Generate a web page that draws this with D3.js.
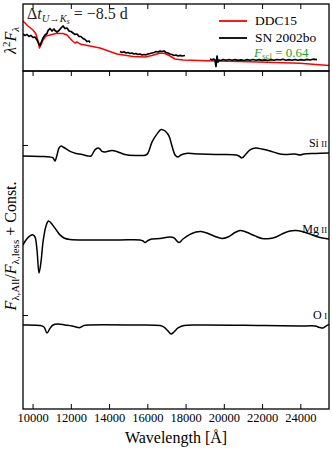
<!DOCTYPE html>
<html>
<head>
<meta charset="utf-8">
<script src="https://cdn.jsdelivr.net/npm/d3@7"></script>
<style>
  body { margin: 0; background: #fff; }
</style>
</head>
<body>
<svg id="chart" width="332" height="450"></svg>
<script>
// x ticks shared by both panels
const xTicks = [10000, 12000, 14000, 16000, 18000, 20000, 22000, 24000];

// top panel: model (DDC15) and observed (SN 2002bo) lambda^2 F_lambda, arbitrary units
const ddcWave = [9500, 9761, 10023, 10180, 10284, 10363, 10441, 10546, 10703, 10912, 11226, 11592, 11801, 12062, 12219, 12324, 12480, 12742, 13526, 14415, 15252, 15879, 16245, 16664, 16925, 17187, 17448, 17866, 19121, 21370, 23984, 25500];
const ddcFlux = [0.746, 0.672, 0.612, 0.552, 0.448, 0.343, 0.388, 0.463, 0.522, 0.537, 0.560, 0.560, 0.537, 0.455, 0.418, 0.433, 0.403, 0.388, 0.343, 0.254, 0.216, 0.209, 0.231, 0.269, 0.261, 0.224, 0.179, 0.164, 0.154, 0.139, 0.115, 0.082];

const obsWave1 = [9500, 9605, 9709, 9814, 9918, 10023, 10127, 10232, 10337, 10389, 10441, 10546, 10650, 10755, 10807, 10912, 11016, 11121, 11173, 11278, 11382, 11487, 11592, 11696, 11801, 11905, 12010, 12115, 12219, 12324, 12428, 12533, 12637, 12742, 12847, 12951, 13003];
const obsFlux1 = [0.552, 0.530, 0.545, 0.515, 0.530, 0.500, 0.507, 0.463, 0.403, 0.381, 0.418, 0.493, 0.537, 0.560, 0.604, 0.634, 0.597, 0.627, 0.604, 0.582, 0.604, 0.642, 0.672, 0.634, 0.642, 0.597, 0.590, 0.567, 0.545, 0.552, 0.515, 0.515, 0.485, 0.470, 0.440, 0.448, 0.425];
const obsWave2 = [14572, 14677, 14781, 14886, 14990, 15095, 15199, 15304, 15409, 15513, 15618, 15722, 15827, 15931, 16036, 16141, 16245, 16350, 16454, 16559, 16664, 16768, 16873, 16977, 17082, 17187, 17291, 17396, 17500, 17605, 17709, 17814, 17971];
const obsFlux2 = [0.291, 0.276, 0.287, 0.269, 0.276, 0.261, 0.269, 0.254, 0.261, 0.246, 0.254, 0.239, 0.246, 0.242, 0.254, 0.261, 0.269, 0.276, 0.291, 0.284, 0.299, 0.291, 0.299, 0.276, 0.269, 0.254, 0.246, 0.231, 0.239, 0.224, 0.234, 0.224, 0.231];
const obsWave3 = [19278, 19383, 19487, 19539, 19592, 19644, 19696, 19749, 19853, 19958, 20115, 20271, 20428, 20585, 20742, 20899, 21056, 21213, 21370, 21526, 21683, 21840, 21997, 22154, 22311, 22468, 22624, 22781, 22938, 23095, 23252, 23409, 23566, 23722, 23879, 24036, 24193, 24350, 24507, 24664, 24873];
const obsFlux3 = [0.179, 0.167, 0.179, 0.164, 0.067, 0.224, 0.134, 0.164, 0.157, 0.172, 0.160, 0.172, 0.161, 0.170, 0.158, 0.167, 0.157, 0.169, 0.160, 0.172, 0.161, 0.170, 0.158, 0.167, 0.157, 0.169, 0.160, 0.172, 0.164, 0.175, 0.161, 0.170, 0.160, 0.172, 0.161, 0.170, 0.161, 0.173, 0.164, 0.176, 0.170];

// bottom panel: flux ratios F_all / F_less, each shifted by a constant
const siWave = [9500, 10390, 10910, 11070, 11170, 11280, 11380, 11490, 11640, 11960, 12270, 12590, 12900, 13060, 13260, 13420, 13530, 13630, 13790, 14150, 14470, 14830, 15360, 15930, 16040, 16250, 16510, 16720, 16930, 17130, 17290, 17450, 17600, 17760, 18020, 18760, 19800, 20740, 20950, 21160, 21370, 21680, 21990, 22420, 22830, 23200, 23720, 23980, 24190, 24770, 25500];
const siRatio = [0.935, 0.932, 0.929, 0.924, 0.906, 0.941, 0.982, 0.994, 0.985, 0.962, 0.950, 0.944, 0.935, 0.935, 0.971, 0.982, 0.976, 0.962, 0.959, 0.968, 0.959, 0.944, 0.938, 0.941, 0.953, 1.018, 1.065, 1.091, 1.082, 1.053, 0.994, 0.941, 0.929, 0.941, 0.950, 0.947, 0.944, 0.938, 0.924, 0.947, 0.971, 0.982, 0.976, 0.965, 0.950, 0.944, 0.947, 0.941, 0.947, 0.950, 0.953];

const mgWave = [9500, 9657, 9866, 10023, 10127, 10232, 10337, 10441, 10546, 10703, 10833, 10964, 11121, 11278, 11435, 11644, 11958, 13003, 14572, 15618, 15775, 15879, 16036, 16245, 16664, 17187, 17396, 17657, 17866, 18232, 18546, 18808, 19121, 19540, 19906, 20219, 20585, 20847, 21161, 21631, 21997, 22416, 22729, 23095, 23461, 23775, 24089, 24507, 24926, 25500];
const mgRatio = [0.912, 0.941, 0.965, 0.971, 0.959, 0.882, 0.747, 0.812, 0.929, 1.024, 1.053, 1.041, 1.018, 0.994, 0.971, 0.953, 0.944, 0.941, 0.941, 0.941, 0.935, 0.926, 0.938, 0.947, 0.950, 0.959, 0.953, 0.926, 0.947, 0.974, 0.988, 0.991, 0.982, 0.962, 0.950, 0.959, 0.985, 0.997, 0.988, 0.965, 0.950, 0.950, 0.959, 0.979, 0.994, 0.997, 0.991, 0.976, 0.959, 0.947];

const oWave = [9500, 10389, 10598, 10755, 10912, 11069, 11330, 11696, 12062, 12376, 12480, 12690, 13003, 15095, 16664, 16873, 17082, 17239, 17396, 17605, 17919, 18755, 21893, 23984, 24768, 25030, 25187, 25343, 25500];
const oRatio = [0.941, 0.938, 0.929, 0.894, 0.921, 0.941, 0.947, 0.941, 0.935, 0.926, 0.926, 0.938, 0.941, 0.941, 0.938, 0.929, 0.906, 0.888, 0.900, 0.924, 0.938, 0.941, 0.938, 0.935, 0.935, 0.926, 0.924, 0.935, 0.944];

const ionNames = ["Si", "Mg", "O"];
const ionStages = ["II", "II", "I"];
const ionOffsets = [1.0, 0.5, 0.0];
const ratioTicks = [1, 2];

const FONT = "Liberation Serif";

const svg = d3.select("#chart");
const left = 23, right = 329;
const topY0 = 4, topY1 = 71, botY1 = 409;

const x = d3.scaleLinear().domain([9500, 25500]).range([left, right]);
const yTop = d3.scaleLinear().domain([0, 1]).range([topY1, topY0]);
const yBot = d3.scaleLinear().domain([0.447, 2.435]).range([botY1, topY1]);

// clip regions
const defs = svg.append("defs");
defs.append("clipPath").attr("id", "clipTop")
  .append("rect").attr("x", left).attr("y", topY0).attr("width", right - left).attr("height", topY1 - topY0);
defs.append("clipPath").attr("id", "clipBot")
  .append("rect").attr("x", left).attr("y", topY1).attr("width", right - left).attr("height", botY1 - topY1);

const zip = (w, f) => w.map((d, i) => [d, f[i]]);
const txt = (sel) => sel.append("text").style("font-family", FONT).attr("fill", "#000");

// ---- top panel ----
const lineTop = d3.line().x(d => x(d[0])).y(d => yTop(d[1]));
const gTop = svg.append("g").attr("clip-path", "url(#clipTop)");

gTop.append("path")
  .attr("d", lineTop(zip(ddcWave, ddcFlux)))
  .attr("fill", "none").attr("stroke", "#ff0000").attr("stroke-width", 1.5)
  .attr("stroke-linejoin", "round");

[[obsWave1, obsFlux1], [obsWave2, obsFlux2], [obsWave3, obsFlux3]].forEach(([w, f]) => {
  gTop.append("path")
    .attr("d", lineTop(zip(w, f)))
    .attr("fill", "none").attr("stroke", "#000").attr("stroke-width", 1.7)
    .attr("stroke-linejoin", "round");
});

// ---- bottom panel ----
const lineBot = d3.line().curve(d3.curveCatmullRom.alpha(0.5))
  .x(d => x(d[0])).y(d => yBot(d[1]));
const gBot = svg.append("g").attr("clip-path", "url(#clipBot)");

const ionCurves = [zip(siWave, siRatio), zip(mgWave, mgRatio), zip(oWave, oRatio)];
ionCurves.forEach((pts, i) => {
  gBot.append("path")
    .attr("d", lineBot(pts.map(d => [d[0], d[1] + ionOffsets[i]])))
    .attr("fill", "none").attr("stroke", "#000").attr("stroke-width", 1.5)
    .attr("stroke-linejoin", "round");
});

// ion labels near the right edge
ionNames.forEach((name, i) => {
  const last = ionCurves[i][ionCurves[i].length - 1];
  const t = txt(svg)
    .attr("x", right - 2)
    .attr("y", yBot(last[1] + ionOffsets[i]) - 6)
    .attr("text-anchor", "end")
    .attr("font-size", 12);
  t.append("tspan").text(name + "\u2009");
  t.append("tspan").attr("font-size", 8.5).text(ionStages[i]);
});

// ---- axes ----
const addTicks = (axis, tx, ty) => {
  const g = svg.append("g").attr("transform", `translate(${tx},${ty})`).call(axis);
  g.select(".domain").remove();
  g.selectAll(".tick line").attr("stroke", "#000").attr("stroke-width", 1);
  return g;
};

addTicks(d3.axisTop(x).tickValues(xTicks).tickSize(-5).tickFormat(""), 0, topY0);
addTicks(d3.axisTop(x).tickValues(xTicks).tickSize(-5).tickFormat(""), 0, topY1);
const xAxis = addTicks(d3.axisBottom(x).tickValues(xTicks).tickSize(-5).tickPadding(4).tickFormat(d3.format("d")), 0, botY1);
xAxis.selectAll(".tick text").attr("font-size", 12.5).style("font-family", FONT).attr("fill", "#000");
addTicks(d3.axisLeft(yBot).tickValues(ratioTicks).tickSize(-5).tickFormat(""), left, 0);

// spines
svg.append("rect").attr("x", left).attr("y", topY0).attr("width", right - left).attr("height", topY1 - topY0)
  .attr("fill", "none").attr("stroke", "#000").attr("stroke-width", 1.3);
svg.append("rect").attr("x", left).attr("y", topY1).attr("width", right - left).attr("height", botY1 - topY1)
  .attr("fill", "none").attr("stroke", "#000").attr("stroke-width", 1.3);

// ---- labels ----
txt(svg)
  .attr("x", (left + right) / 2).attr("y", 443)
  .attr("text-anchor", "middle").attr("font-size", 16)
  .text("Wavelength [\u00c5]");

const yl = txt(svg)
  .attr("transform", `translate(16,${(topY1 + botY1) / 2 + 6}) rotate(-90)`)
  .attr("text-anchor", "middle").attr("font-size", 16);
yl.append("tspan").attr("font-style", "italic").text("F");
yl.append("tspan").attr("font-size", 11).attr("dy", 3).text("\u03bb,All");
yl.append("tspan").attr("dy", -3).text("/");
yl.append("tspan").attr("font-style", "italic").text("F");
yl.append("tspan").attr("font-size", 11).attr("dy", 3).text("\u03bb,less");
yl.append("tspan").attr("dy", -3).text(" + Const.");

const yt = txt(svg)
  .attr("transform", `translate(16,${(topY0 + topY1) / 2 + 3}) rotate(-90)`)
  .attr("text-anchor", "middle").attr("font-size", 16);
yt.append("tspan").attr("font-style", "italic").text("\u03bb");
yt.append("tspan").attr("font-size", 11).attr("dy", -6).text("2");
yt.append("tspan").attr("dy", 6).attr("font-style", "italic").text("F");
yt.append("tspan").attr("font-size", 11).attr("dy", 3).attr("font-style", "italic").text("\u03bb");

// epoch annotation
const ann = txt(svg).attr("x", 27).attr("y", 19).attr("font-size", 16).attr("fill", "#222");
ann.append("tspan").text("\u0394");
ann.append("tspan").attr("font-style", "italic").text("t");
ann.append("tspan").attr("font-size", 10.5).attr("dy", 3).attr("font-style", "italic").text("U\u2192K");
ann.append("tspan").attr("font-size", 7.5).attr("dy", 2).attr("font-style", "italic").text("s");
ann.append("tspan").attr("dy", -5).text(" = \u22128.5 d");

// legend
const legend = svg.append("g");
const legItems = [["DDC15", "#ff0000"], ["SN 2002bo", "#000"]];
legItems.forEach(([name, col], i) => {
  const ly = 21 + i * 17;
  legend.append("line").attr("x1", 219).attr("x2", 247).attr("y1", ly).attr("y2", ly)
    .attr("stroke", col).attr("stroke-width", 1.8);
  txt(legend).attr("x", 255).attr("y", ly + 4).attr("font-size", 13.5).text(name);
});
const fs = txt(legend).attr("x", 254).attr("y", 57).attr("font-size", 13).attr("fill", "#2ca02c");
fs.append("tspan").attr("font-style", "italic").text("F");
fs.append("tspan").attr("font-size", 9).attr("dy", 2).text("scl");
fs.append("tspan").attr("dy", -2).text(" = 0.64");
</script>
</body>
</html>
